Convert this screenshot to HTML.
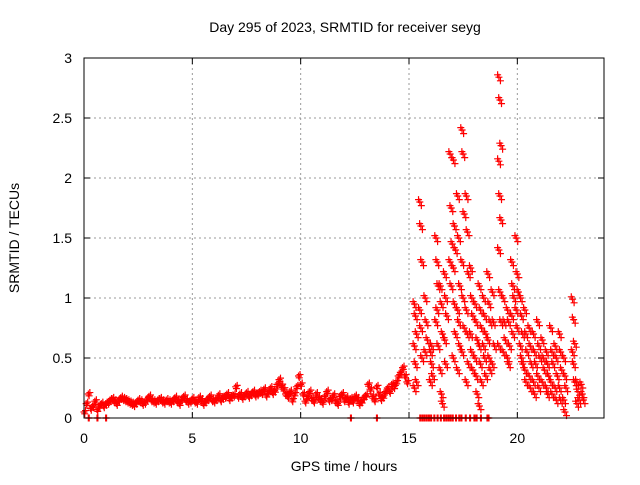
<!DOCTYPE html>
<html><head><meta charset="utf-8"><style>
body{margin:0;background:#fff}
svg text{font-family:"Liberation Sans",sans-serif;font-size:14px;fill:#000}
</style></head><body>
<svg id="c" width="640" height="480" xmlns="http://www.w3.org/2000/svg">
<rect width="640" height="480" fill="#fff"/>
<text x="345" y="32" text-anchor="middle">Day 295 of 2023, SRMTID for receiver seyg</text>
<text x="344" y="471" text-anchor="middle">GPS time / hours</text>
<text transform="translate(19,238) rotate(-90)" text-anchor="middle">SRMTID / TECUs</text>
<g id="grid"></g><g id="marks"></g>
<rect x="84" y="58" width="520" height="360" fill="none" stroke="#000"/>
</svg>
<script>
const xTicks=[0,5,10,15,20];
const yTicks=[0,0.5,1,1.5,2,2.5,3];
const yTickLabels=["0","0.5","1","1.5","2","2.5","3"];
const quietStart=0, quietStep=0.1;
const quietValues=[0.05,0.12,0.2,0.08,0.1,0.14,0.07,0.1,0.12,0.1,
0.12,0.13,0.15,0.16,0.14,0.12,0.15,0.17,0.16,0.15,
0.14,0.13,0.12,0.11,0.13,0.15,0.14,0.12,0.13,0.16,
0.18,0.15,0.14,0.13,0.15,0.16,0.14,0.13,0.15,0.14,
0.13,0.15,0.17,0.14,0.12,0.16,0.18,0.15,0.13,0.14,
0.16,0.14,0.13,0.17,0.15,0.12,0.14,0.16,0.18,0.15,
0.14,0.16,0.19,0.15,0.17,0.18,0.2,0.16,0.18,0.19,
0.26,0.18,0.2,0.17,0.19,0.21,0.18,0.2,0.22,0.19,
0.2,0.22,0.21,0.24,0.19,0.22,0.25,0.21,0.23,0.28,
0.32,0.27,0.24,0.2,0.18,0.22,0.15,0.2,0.26,0.35,
0.28,0.2,0.14,0.18,0.22,0.16,0.14,0.2,0.17,0.15,
0.13,0.18,0.22,0.15,0.16,0.19,0.14,0.12,0.18,0.2,
0.15,0.17,0.13,0.16,0.14,0.18,0.16,0.12,0.14,0.17,
0.19,0.28,0.24,0.18,0.15,0.26,0.2,0.16,0.18,0.22,
0.25,0.22,0.28,0.26,0.3,0.35,0.38,0.42,0.35,0.3];
const activeHours=[15.3,15.55,15.8,16.05,16.3,16.5,16.7,16.95,17.1,17.3,17.5,17.7,17.9,18.1,18.3,18.5,18.7,18.9,19.2,19.4,19.6,19.8,20.0,20.2,20.4,20.6,20.8,21.0,21.2,21.4,21.6,21.8,22.0,22.2,22.6,22.8,23.0];
const activeValues=[[0.95,0.85,0.7,0.6,0.45,0.3,0.25],[1.8,1.6,1.3,0.9,0.75,0.5],[1.0,0.8,0.65,0.55],[0.55,0.45,0.35,0.3,0.6],[1.5,1.3,1.1,0.8,0.9,0.6],[1.1,0.95,0.7,0.4,0.2,0.12],[1.2,1.0,0.85,0.65,0.45],[2.2,1.75,1.45,1.3,1.1],[2.15,1.6,1.4,1.25,0.95,0.7,0.5],[1.85,1.5,1.1,0.9,0.8,0.6,0.4],[2.4,2.2,1.7,1.3,1.0,0.75,0.55],[1.85,1.55,1.2,0.9,0.7,0.45,0.3],[1.25,1.0,0.85,0.7,0.55,0.4],[0.95,0.8,0.65,0.5,0.35,0.2],[1.1,0.9,0.75,0.6,0.45,0.3,0.1],[1.0,0.85,0.7,0.6,0.5,0.35],[1.2,0.95,0.8,0.65,0.5,0.4],[1.05,0.8,0.6,0.45],[2.84,2.65,2.27,2.14,1.85,1.65,1.4,1.05,0.8,0.6],[1.0,0.8,0.65,0.55],[0.9,0.8,0.6,0.5,0.45],[1.3,1.1,1.0,0.85,0.7],[1.5,1.2,1.05,0.9,0.75],[1.0,0.85,0.7,0.6,0.5,0.45],[0.9,0.7,0.55,0.4,0.3],[0.75,0.6,0.45,0.35,0.25],[0.7,0.55,0.45,0.3,0.2],[0.8,0.6,0.5,0.35,0.25],[0.65,0.5,0.4,0.3],[0.55,0.45,0.35,0.25,0.2],[0.75,0.55,0.45,0.3,0.2],[0.6,0.5,0.35,0.25,0.15],[0.7,0.55,0.4,0.25,0.15],[0.5,0.35,0.25,0.15,0.05],[0.99,0.82,0.62,0.55,0.45,0.3],[0.3,0.22,0.15,0.12],[0.28,0.2,0.15]];
const zeroHours=[0.2,0.6,1.0,12.3,13.5,15.5,15.6,15.7,15.8,15.9,16.0,16.15,16.3,16.45,16.6,16.7,16.8,16.9,17.0,17.15,17.3,17.4,17.6,17.8,18.0,18.1,18.3,18.6,18.65];
const NS="http://www.w3.org/2000/svg";
const X=h=>84+h*520/24, Y=v=>418-v*120;
const grid=document.getElementById('grid'), marks=document.getElementById('marks'), svg=document.getElementById('c');
function el(t,a,p){const e=document.createElementNS(NS,t);for(const k in a)e.setAttribute(k,a[k]);p.appendChild(e);return e;}
xTicks.forEach(t=>{const x=X(t);
 if(t>0){const g=el('line',{x1:x,y1:58,x2:x,y2:418,stroke:'#999','stroke-dasharray':'2,3'},grid);
 
 }
 el('line',{x1:x,y1:418,x2:x,y2:412,stroke:'#000'},grid);el('line',{x1:x,y1:58,x2:x,y2:64,stroke:'#000'},grid);
 const tx=el('text',{x:x,y:443,'text-anchor':'middle'},svg);tx.textContent=t;
 
 });
yTicks.forEach((t,i)=>{const y=Y(t);
 if(t>0&&t<3){const g=el('line',{x1:84,y1:y,x2:604,y2:y,stroke:'#999','stroke-dasharray':'2,3'},grid);
 
 }
 el('line',{x1:84,y1:y,x2:90,y2:y,stroke:'#000'},grid);el('line',{x1:604,y1:y,x2:598,y2:y,stroke:'#000'},grid);
 const tx=el('text',{x:72,y:y+5,'text-anchor':'end'},svg);tx.textContent=yTickLabels[i];
 
 });
function plus(h,v){const x=X(h),y=Y(Math.max(0,v));
 const p=el('path',{d:`M${x-3.5},${y}h7M${x},${y-3.5}v7`,stroke:'#f00','stroke-width':1.2,fill:'none'},marks);
 
 }
quietValues.forEach((v,i)=>{const h=quietStart+i*quietStep;plus(h,v);plus(h+0.035,v-0.015);plus(h+0.07,v+0.012);});
activeHours.forEach((h,i)=>activeValues[i].forEach((v,j)=>{const o=(j%3-1)*0.05;plus(h+o,v);plus(h+o+0.07,v-0.03);plus(h+o-0.06,v+0.02);}));
zeroHours.forEach(h=>{plus(h,0);plus(h+0.04,0);});
</script>
</body></html>
